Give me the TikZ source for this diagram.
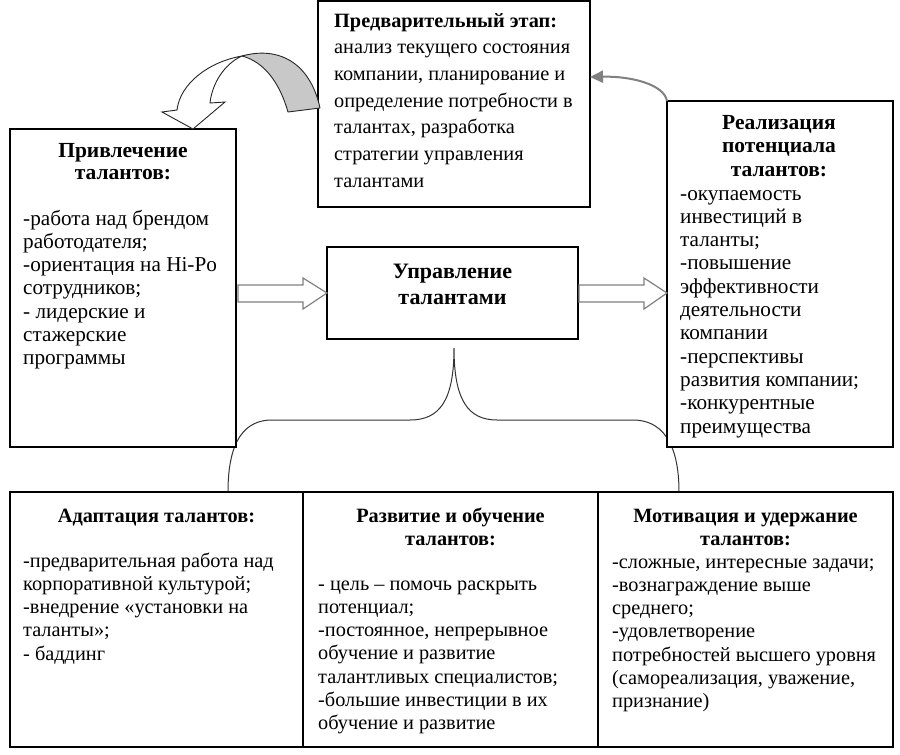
\documentclass[tikz,border=0pt]{standalone}
\usepackage{fontspec}
\setmainfont{Liberation Serif}
\usetikzlibrary{arrows.meta,calc}
\newcommand\blkL[2]{\vtop{\baselineskip=#1\lineskiplimit=-100pt\let\\\cr\halign{##\hfil\cr#2\crcr}}}
\newcommand\blkC[2]{\vtop{\baselineskip=#1\lineskiplimit=-100pt\let\\\cr\halign{\hfil##\hfil\cr#2\crcr}}}
\definecolor{arrgray}{HTML}{808080}
\definecolor{fillgray}{HTML}{C8C8C8}
\begin{document}
\begin{tikzpicture}[x=1pt,y=-1pt,
  font=\fontsize{20.3}{23}\selectfont,
  box/.style={draw=black,line width=1.4pt,inner sep=0,outer sep=0,fill=white},
  txt/.style={inner sep=0,anchor=base west},
  sidetxt/.style={inner sep=0,anchor=base west,font=\fontsize{21.2}{23}\selectfont},
  ttl/.style={inner sep=0,anchor=base,font=\fontsize{20.3}{23}\selectfont\bfseries},
  sidettl/.style={inner sep=0,anchor=base,font=\fontsize{21.5}{23}\selectfont\bfseries},
  barrow/.style={draw=arrgray,line width=1.2pt,fill=white,line join=miter},
  thinline/.style={draw=black!80,line width=1pt}]
\useasboundingbox (0,0) rectangle (900,755);
\fill[white] (0,0) rectangle (900,755);

% brace
\draw[thinline] (228,492) .. controls (228,440) and (245,420) .. (272,420) -- (410,420)
  .. controls (440,420) and (454,400) .. (454,348)
  .. controls (454,400) and (468,420) .. (497,420) -- (633,420)
  .. controls (660,420) and (679,440) .. (679,492);

% boxes
\node[box,minimum width=272,minimum height=206] (T) at (454,104) {};
\node[box,minimum width=226,minimum height=318] (L) at (123,288) {};
\node[box,minimum width=251,minimum height=92] (C) at (452.5,293) {};
\node[box,minimum width=226,minimum height=346] (R) at (780,274) {};
\node[box,minimum width=293,minimum height=255] (B1) at (156.5,619.5) {};
\node[box,minimum width=295,minimum height=255] (B2) at (450.5,619.5) {};
\node[box,minimum width=295,minimum height=255] (B3) at (745.5,619.5) {};

% block arrows
\draw[barrow] (C.west) -- ++(-24,-15) -- ++(0,7) -- ++(-65,0) -- ++(0,17) -- ++(65,0) -- ++(0,7) -- cycle;
\draw[barrow] (R.west |- C.east) -- ++(-23,-15) -- ++(0,7) -- ++(-65,0) -- ++(0,17) -- ++(65,0) -- ++(0,7) -- cycle;

% gray curved arrow
\draw[arrgray,line width=2pt,-{Triangle[length=13pt,width=12pt]}] (R.north west) .. controls (664,84) and (630,76) .. ($(T.north east)+(0,76)$);

% curved block arrow (top left)
\draw[draw=black!85,line width=0.9pt,fill=fillgray,line join=round]
  (242,56) .. controls (278,46) and (310,62) .. (320,108) -- (288,112)
  .. controls (280,84) and (265,62) .. (242,56) -- cycle;
\draw[draw=black!85,line width=0.9pt,fill=white,line join=miter]
  (242,56) .. controls (208,62) and (180,84) .. (177,110) -- (162,112) -- (L.north -| 193,0)
  -- (225,102) -- (210,103) .. controls (212,84) and (224,64) .. (242,56) -- cycle;

% texts
\node[txt] (tT) at (334,27) {\blkL{26.7pt}{\textbf{Предварительный этап:}\\анализ текущего состояния\\компании, планирование и\\определение потребности в\\талантах, разработка\\стратегии управления\\талантами}};

\node[sidettl] (tLh) at (123,157) {\blkC{22.5pt}{Привлечение\\талантов:}};
\node[sidetxt] (tLb) at (23,225) {\blkL{23.3pt}{-работа над брендом\\работодателя;\\-ориентация на Hi-Po\\сотрудников;\\- лидерские и\\стажерские\\программы}};

\node[ttl,font=\fontsize{22}{26}\selectfont\bfseries] (tC) at (452.5,278) {\blkC{26pt}{Управление\\талантами}};

\node[sidettl] (tRh) at (779,129) {\blkC{23.5pt}{Реализация\\потенциала\\талантов:}};
\node[sidetxt] (tRb) at (680,200) {\blkL{23.3pt}{-окупаемость\\инвестиций в\\таланты;\\-повышение\\эффективности\\деятельности\\компании\\-перспективы\\развития компании;\\-конкурентные\\преимущества}};

\node[ttl] (t1h) at (156.5,522) {\blkC{23pt}{Адаптация талантов:}};
\node[txt] (t1b) at (23,567) {\blkL{23.3pt}{-предварительная работа над\\корпоративной культурой;\\-внедрение «установки на\\таланты»;\\- баддинг}};

\node[ttl] (t2h) at (450.5,522) {\blkC{23pt}{Развитие и обучение\\талантов:}};
\node[txt] (t2b) at (318,590) {\blkL{23.3pt}{- цель – помочь раскрыть\\потенциал;\\-постоянное, непрерывное\\обучение и развитие\\талантливых специалистов;\\-большие инвестиции в их\\обучение и развитие}};

\node[ttl] (t3h) at (745.5,522) {\blkC{23pt}{Мотивация и удержание\\талантов:}};
\node[txt] (t3b) at (612,568) {\blkL{23.3pt}{-сложные, интересные задачи;\\-вознаграждение выше\\среднего;\\-удовлетворение\\потребностей высшего уровня\\(самореализация, уважение,\\признание)}};
\end{tikzpicture}
\end{document}
